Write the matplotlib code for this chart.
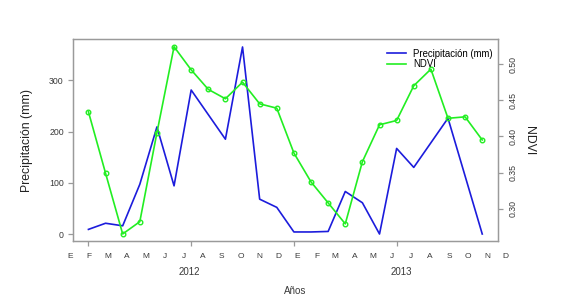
import numpy as np
import matplotlib
matplotlib.use('Agg')
import matplotlib.pyplot as plt
from matplotlib.lines import Line2D
from matplotlib.transforms import blended_transform_factory

plt.rcParams['font.family'] = ['Liberation Sans', 'DejaVu Sans']

# monthly series, Feb 2012 .. Jan 2014
precip = [9, 21, 16, 97, 209, 94, 281, 233, 185, 365, 68, 52,
          4, 4, 5, 83, 61, 0, 167, 130, 178, 226, 113, 0]
ndvi = [0.434, 0.349, 0.265, 0.282, 0.405, 0.524, 0.492, 0.465, 0.452, 0.475, 0.445, 0.439,
        0.377, 0.337, 0.308, 0.279, 0.365, 0.416, 0.422, 0.470, 0.493, 0.425, 0.427, 0.395]
meses = ['E', 'F', 'M', 'A', 'M', 'J', 'J', 'A', 'S', 'O', 'N', 'D'] * 2
years = ['2012', '2013']
t = np.arange(len(precip))

gris = '#9a9a9a'
txt = '#3a3a3a'

fig = plt.figure(figsize=(5.67, 3.01), dpi=100)
ax = fig.add_axes([0.1282, 0.1977, 0.7501, 0.6711])
ax2 = ax.twinx()

ax.plot(t, precip, color='#1c1cdc', lw=1.2)
ax2.plot(t, ndvi, color='#22ee22', lw=1.2, marker='o', ms=3.3,
         mfc='none', mew=1.0)

ax.set_xlim(-0.92, 23.92)
ax.set_ylim(-14.6, 379.6)
ax2.set_ylim(0.2546, 0.534)

ax.set_yticks([0, 100, 200, 300])
ax2.set_yticks([0.30, 0.35, 0.40, 0.45, 0.50])
ax2.set_yticklabels(['0.30', '0.35', '0.40', '0.45', '0.50'], rotation=90, va='center')
ax.set_xticks([0, 6, 12, 18])
ax.set_xticklabels([])

for a in (ax, ax2):
    for s in a.spines.values():
        s.set_color(gris)
        s.set_linewidth(0.9)
ax.tick_params(axis='y', labelsize=6.3, colors=gris, labelcolor=txt, length=3.4, width=0.9, pad=3)
ax.tick_params(axis='x', colors=gris, length=3.6, width=0.9)
ax2.tick_params(axis='y', labelsize=6.3, colors=gris, labelcolor=txt, length=3.4, width=0.9, pad=4)

ax.set_ylabel('Precipitación (mm)', fontsize=8.8, color='#222222')
ax.yaxis.set_label_coords(-0.093, 0.5)
ax2.set_ylabel('NDVI', fontsize=8.8, color='#222222', rotation=270, va='center')
ax2.yaxis.set_label_coords(1.073, 0.5)

# month letters and years below the axis
tr = blended_transform_factory(ax.transData, fig.transFigure)
for x, m in zip(np.linspace(-1.07, 24.38, len(meses)), meses):
    ax.text(x, 0.147, m, transform=tr, ha='center', va='center', fontsize=6, color=txt)
for x, y in zip([5.9, 18.25], years):
    ax.text(x, 0.0963, y, transform=tr, ha='center', va='center', fontsize=7, color=txt)
fig.text(0.520, 0.033, 'Años', ha='center', va='center', fontsize=7, color=txt)

handles = [Line2D([], [], color='#1c1cdc', lw=1.2), Line2D([], [], color='#22ee22', lw=1.2)]
ax2.legend(handles, ['Precipitación (mm)', 'NDVI'], loc='upper left',
           bbox_to_anchor=(0.7397, 0.955), frameon=False, fontsize=6.9,
           handlelength=2.0, handletextpad=0.7, labelspacing=0.05,
           borderpad=0, borderaxespad=0)

fig.savefig('out.png', dpi=100)
